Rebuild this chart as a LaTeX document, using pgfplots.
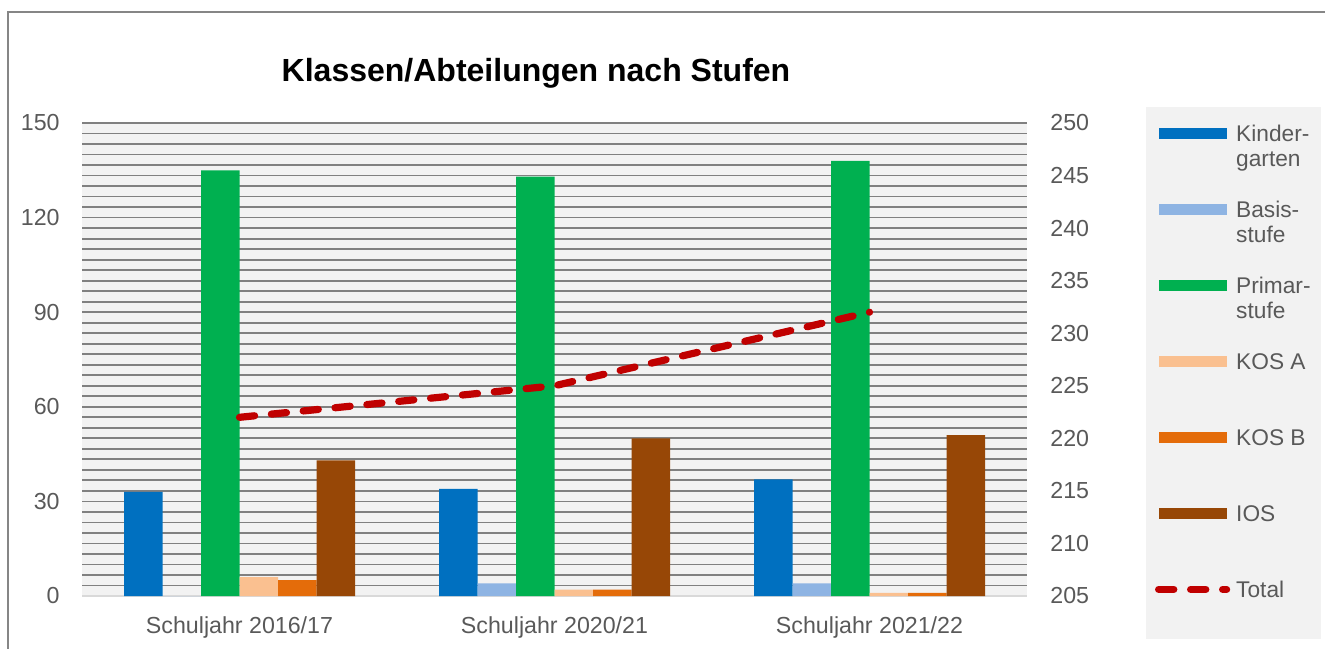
\documentclass[border=0pt]{standalone}
\usepackage{pgfplots}
\pgfplotsset{compat=1.18}
\usepackage{fontspec}
\setmainfont{Liberation Sans}
\definecolor{kg}{HTML}{0070C0}
\definecolor{basis}{HTML}{8EB4E3}
\definecolor{primar}{HTML}{00B050}
\definecolor{kosa}{HTML}{FAC090}
\definecolor{kosb}{HTML}{E46C0A}
\definecolor{ios}{HTML}{974706}
\definecolor{totred}{HTML}{C00000}
\definecolor{gridgray}{HTML}{808080}
\definecolor{axgray}{HTML}{D9D9D9}
\definecolor{plotbg}{HTML}{F2F2F2}
\definecolor{legbg}{HTML}{F2F2F2}
\definecolor{txt}{HTML}{595959}
\definecolor{framegray}{HTML}{868686}
\pgfplotsset{
  barleg/.style={legend image code/.code={\fill[##1] (0pt,1.3pt) rectangle (34pt,7pt);}},
  lineleg/.style={legend image code/.code={\draw[##1] (0pt,4.15pt) -- (34pt,4.15pt);}},
}
\begin{document}
\begin{tikzpicture}
\useasboundingbox (-41pt,-26pt) rectangle (621.5pt,298pt);
\clip (-41pt,-26pt) rectangle (621.5pt,298pt);
\fill[legbg] (532pt,-21.5pt) rectangle (619.5pt,244.5pt);
\draw[framegray, line width=0.75pt] (-37pt,-40pt) -- (-37pt,292pt) -- (640pt,292pt);
\node[font=\bfseries\fontsize{16}{19}\selectfont, text=black] at (227pt,261.5pt) {Klassen/Abteilungen nach Stufen};
\begin{axis}[
  scale only axis, width=472.5pt, height=236.5pt,
  xmin=-0.5, xmax=2.5, ymin=0, ymax=150,
  enlargelimits=false,
  xtick={0,1,2},
  xticklabels={Schuljahr 2016/17, Schuljahr 2020/21, Schuljahr 2021/22},
  ytick={0,30,...,150}, minor y tick num=8,
  ymajorgrids, yminorgrids,
  major grid style={draw=gridgray, line width=0.9pt},
  minor grid style={draw=gridgray, line width=0.9pt},
  major tick length=0pt, minor tick length=0pt,
  axis x line*=bottom, axis y line*=left,
  separate axis lines,
  every outer x axis line/.append style={-, draw=axgray, line width=1pt},
  every outer y axis line/.append style={-, draw=none},
  axis background/.style={fill=plotbg},
  tick label style={font=\fontsize{11.6}{13.9}\selectfont, text=txt},
  /pgf/number format/assume math mode=true,
  yticklabel style={anchor=east, inner sep=0pt, xshift=-11pt},
  xticklabel style={anchor=north, inner sep=0pt, yshift=-10pt},
  ybar=0pt, bar width=19.25pt,
  clip=false,
]
\addplot[fill=kg, draw=none] coordinates {(0,33) (1,34) (2,37)};
\addplot[fill=basis, draw=none] coordinates {(0,0) (1,4) (2,4)};
\addplot[fill=primar, draw=none] coordinates {(0,135) (1,133) (2,138)};
\addplot[fill=kosa, draw=none] coordinates {(0,6) (1,2) (2,1)};
\addplot[fill=kosb, draw=none] coordinates {(0,5) (1,2) (2,1)};
\addplot[fill=ios, draw=none] coordinates {(0,43) (1,50) (2,51)};
\end{axis}
\begin{axis}[
  scale only axis, width=472.5pt, height=236.5pt,
  xmin=-0.5, xmax=2.5, ymin=205, ymax=250,
  enlargelimits=false,
  axis x line=none, axis y line*=right,
  every outer y axis line/.append style={-, draw=none},
  ytick={205,210,...,250},
  major tick length=0pt, minor tick length=0pt,
  tick label style={font=\fontsize{11.6}{13.9}\selectfont, text=txt},
  /pgf/number format/assume math mode=true,
  yticklabel style={anchor=west, inner sep=0pt, xshift=11.5pt},
  clip=false,
  legend style={draw=none, fill=none, inner sep=0pt, outer sep=0pt,
    at={(1.13545,1.00275)}, anchor=north west,
    row sep=0pt, column sep=3pt,
    font=\fontsize{11.35}{12.5}\selectfont, text=txt,
    nodes={inner sep=0pt, text height=10pt, text depth=28pt},
    cells={anchor=base west}},
]
\addlegendimage{barleg, fill=kg, draw=none}
\addlegendentry{\parbox[t]{50pt}{\raggedright Kinder-\\garten}}
\addlegendimage{barleg, fill=basis, draw=none}
\addlegendentry{\parbox[t]{50pt}{\raggedright Basis-\\stufe}}
\addlegendimage{barleg, fill=primar, draw=none}
\addlegendentry{\parbox[t]{50pt}{\raggedright Primar-\\stufe}}
\addlegendimage{barleg, fill=kosa, draw=none}
\addlegendentry{KOS A}
\addlegendimage{barleg, fill=kosb, draw=none}
\addlegendentry{KOS B}
\addlegendimage{barleg, fill=ios, draw=none}
\addlegendentry{IOS}
\addplot[lineleg, color=totred, line width=3.6pt, dash pattern=on 7.6pt off 8.4pt, line cap=round, mark=none]
  coordinates {(0,222) (1,225) (2,232)};
\addlegendentry{Total}
\end{axis}
\end{tikzpicture}
\end{document}
